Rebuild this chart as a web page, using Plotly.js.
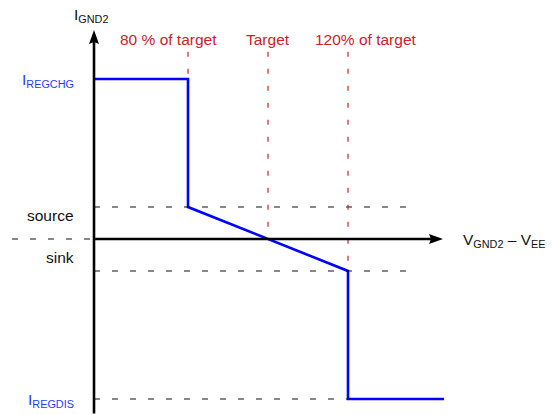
<!DOCTYPE html>
<html>
<head>
<meta charset="utf-8">
<script src="https://cdn.plot.ly/plotly-3.0.1.min.js"></script>
<style>html,body{margin:0;padding:0;background:#fff;}#chart{width:552px;height:415px;}</style>
</head>
<body>
<div id="chart"></div>
<script>
// ---- data (x in % of target voltage, y in normalized current) ----
const targetPct = [80, 100, 120];
const targetLabels = ['80 % of target', 'Target', '120% of target'];
const levelNames = ['I<sub>REGCHG</sub>', 'source', 'sink', 'I<sub>REGDIS</sub>'];
const levelValues = [1, 0.2, -0.2, -1];
const curveX = [56.5, 80, 80, 120, 120, 144];
const curveY = [1, 1, 0.2, -0.2, -1, -1];
const xAxisTitle = 'V<sub>GND2</sub> \u2013 V<sub>EE</sub>';
const yAxisTitle = 'I<sub>GND2</sub>';

// ---- layout constants ----
const W = 552, H = 415;
const xRange = [33, 171];
const yRange = [-1.1, 1.49375];
const pxX = W / (xRange[1] - xRange[0]);   // px per x unit
const pxY = H / (yRange[1] - yRange[0]);   // px per y unit
const originX = curveX[0];
const xAxisEnd = 143.75;
const yAxisTop = 1.306;
const yAxisBottom = -1.09;
const dashRight = 136;
const leftDashStart = 36;
const redTop = 1.17;

const RED = '#cc2129';
const BLUE = '#0000ff';
const LBLUE = '#1f3cf5';
const FONT = 'Liberation Sans, Arial, Helvetica, sans-serif';
const FS = 15.5;
const DASHBLK = {color: '#111', width: 1.1, dash: '6px,12px'};

const shapes = [];
// black dashed level lines
levelValues.forEach((v, i) => {
  if (i === 0) return;
  const xEnd = i === 3 ? targetPct[2] : dashRight;
  shapes.push({type: 'line', xref: 'x', yref: 'y', x0: originX, x1: xEnd, y0: v, y1: v, line: DASHBLK});
});
// dashed extension of x axis to the left
shapes.push({type: 'line', xref: 'x', yref: 'y', x0: leftDashStart, x1: originX, y0: 0, y1: 0, line: DASHBLK});
// red dashed target markers
targetPct.forEach((p, i) => {
  const yEnd = i === 0 ? levelValues[0] : (i === 1 ? 0 : levelValues[2]);
  shapes.push({type: 'line', xref: 'x', yref: 'y', x0: p, x1: p, y0: redTop, y1: yEnd,
    line: {color: RED, width: 1.2, dash: '5px,12px'}});
});
// axes
shapes.push({type: 'line', xref: 'x', yref: 'y', x0: originX, x1: originX, y0: yAxisBottom, y1: yAxisTop - 12 / pxY,
  line: {color: '#000', width: 2.6}});
shapes.push({type: 'line', xref: 'x', yref: 'y', x0: originX, x1: xAxisEnd - 12 / pxX, y0: 0, y1: 0,
  line: {color: '#000', width: 2.6}});
// arrowheads
const hl = 14, hw = 5, notch = 2;
shapes.push({type: 'path', xref: 'x', yref: 'y', fillcolor: '#000', line: {width: 0},
  path: `M${originX},${yAxisTop} L${originX + hw / pxX},${yAxisTop - hl / pxY} L${originX},${yAxisTop - (hl - notch) / pxY} L${originX - hw / pxX},${yAxisTop - hl / pxY} Z`});
shapes.push({type: 'path', xref: 'x', yref: 'y', fillcolor: '#000', line: {width: 0},
  path: `M${xAxisEnd},0 L${xAxisEnd - hl / pxX},${hw / pxY} L${xAxisEnd - (hl - notch) / pxX},0 L${xAxisEnd - hl / pxX},${-hw / pxY} Z`});

const annotations = [];
const shifts = [-19.5, 0, 17.5];
targetPct.forEach((p, i) => {
  annotations.push({x: p, y: redTop, xref: 'x', yref: 'y', text: targetLabels[i], showarrow: false,
    xanchor: 'center', yanchor: 'bottom', xshift: shifts[i], yshift: 2,
    font: {family: FONT, size: FS, color: RED}});
});
const lvlShift = [0, -8, 14, 0];
levelNames.forEach((n, i) => {
  const isI = n.startsWith('I');
  annotations.push({x: originX - 5, y: levelValues[i], xref: 'x', yref: 'y', text: n, showarrow: false,
    xanchor: 'right', yanchor: 'middle', yshift: lvlShift[i] + (isI ? -1 : 0), xshift: 2,
    font: {family: FONT, size: FS, color: isI ? LBLUE : '#111'}});
});
annotations.push({x: xAxisEnd + 4.5, y: 0, xref: 'x', yref: 'y', text: xAxisTitle, showarrow: false,
  xanchor: 'left', yanchor: 'middle', yshift: -1, font: {family: FONT, size: FS, color: '#111'}});
annotations.push({x: originX - 5.5, y: yAxisTop, xref: 'x', yref: 'y', text: yAxisTitle, showarrow: false,
  xanchor: 'left', yanchor: 'bottom', yshift: 3, font: {family: FONT, size: FS, color: '#111'}});

const trace = {x: curveX, y: curveY, type: 'scatter', mode: 'lines',
  line: {color: BLUE, width: 2.6}, hoverinfo: 'skip'};

const layout = {
  width: W, height: H, autosize: false,
  margin: {l: 0, r: 0, t: 0, b: 0, pad: 0},
  paper_bgcolor: '#fff', plot_bgcolor: '#fff',
  showlegend: false,
  xaxis: {range: xRange, visible: false, fixedrange: true},
  yaxis: {range: yRange, visible: false, fixedrange: true},
  shapes: shapes, annotations: annotations
};
Plotly.newPlot('chart', [trace], layout, {staticPlot: true, displayModeBar: false});
</script>
</body>
</html>
